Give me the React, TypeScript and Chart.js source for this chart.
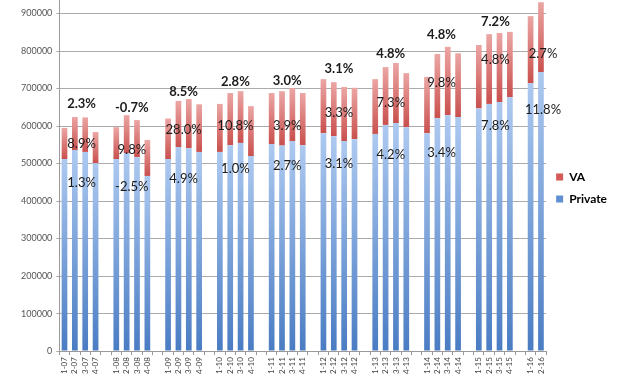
import React, { useEffect, useRef } from 'react';
import { Chart, registerables } from 'chart.js';

Chart.register(...registerables);

// Quarter tick labels ('' = spacer column between years)
const tickLabels: string[] = [
  '1-07', '2-07', '3-07', '4-07', '',
  '1-08', '2-08', '3-08', '4-08', '',
  '1-09', '2-09', '3-09', '4-09', '',
  '1-10', '2-10', '3-10', '4-10', '',
  '1-11', '2-11', '3-11', '4-11', '',
  '1-12', '2-12', '3-12', '4-12', '',
  '1-13', '2-13', '3-13', '4-13', '',
  '1-14', '2-14', '3-14', '4-14', '',
  '1-15', '2-15', '3-15', '4-15', '',
  '1-16', '2-16',
];

const privateValues: (number | null)[] = [
  512000, 536000, 531000, 501000, null,
  512000, 528000, 517000, 467000, null,
  512000, 544000, 541000, 531000, null,
  531000, 549000, 555000, 520000, null,
  552000, 548000, 560000, 549000, null,
  581000, 573000, 560000, 565000, null,
  579000, 603000, 608000, 597000, null,
  581000, 621000, 629000, 624000, null,
  647000, 659000, 664000, 677000, null,
  714000, 744000,
];

const vaValues: (number | null)[] = [
  83000, 88000, 92000, 83000, null,
  85000, 101000, 99000, 96000, null,
  108000, 123000, 131000, 127000, null,
  128000, 139000, 138000, 133000, null,
  136000, 145000, 141000, 139000, null,
  144000, 144000, 144000, 137000, null,
  146000, 154000, 160000, 144000, null,
  150000, 171000, 182000, 170000, null,
  169000, 186000, 184000, 174000, null,
  179000, 186000,
];

const yTickValues = [0, 100000, 200000, 300000, 400000, 500000, 600000, 700000, 800000, 900000];

const yearSuffixes = ['07', '08', '09', '10', '11', '12', '13', '14', '15', '16'];
const totalGrowth: (string | null)[] = ['2.3%', '-0.7%', '8.5%', '2.8%', '3.0%', '3.1%', '4.8%', '4.8%', '7.2%', null];
const vaGrowth = ['8.9%', '9.8%', '28.0%', '10.8%', '3.9%', '3.3%', '7.3%', '9.8%', '4.8%', '2.7%'];
const privateGrowth = ['1.3%', '-2.5%', '4.9%', '1.0%', '2.7%', '3.1%', '4.2%', '3.4%', '7.8%', '11.8%'];

// Annotation anchors (value-axis units) and horizontal nudges (category units)
const totalGrowthAt = [659000, 648000, 691000, 717000, 720000, 752000, 792000, 843000, 877000, 0];
const vaGrowthAt = [552000, 536000, 589000, 600000, 600000, 635000, 661000, 715000, 776000, 792000];
const privateGrowthAt = [448000, 437000, 459000, 485000, 493000, 499000, 523000, 528000, 600000, 643000];
const labelNudge = [0.15, 0, 0, 0, 0, 0, 0, -0.1, 0.1, 0.7];

const Y_MAX = 936000;

const COLORS = {
  vaLight: '#eba6a4',
  vaDark: '#c9504e',
  prLight: '#adc9f0',
  prDark: '#4a7cc3',
};

function segmentGradient(ctx: any, isTop: boolean, light: string, dark: string) {
  const chart = ctx.chart;
  const y = chart.scales && chart.scales.y;
  if (ctx.type !== 'data' || !y) return dark;
  const i = ctx.dataIndex;
  const p = privateValues[i];
  const v = vaValues[i];
  if (p == null || v == null) return dark;
  const base = isTop ? p : 0;
  const top = isTop ? p + v : p;
  const y0 = y.getPixelForValue(top);
  const y1 = y.getPixelForValue(base);
  if (!isFinite(y0) || !isFinite(y1) || y0 === y1) return dark;
  const g = chart.ctx.createLinearGradient(0, y0, 0, y1);
  g.addColorStop(0, light);
  g.addColorStop(1, dark);
  return g;
}

const growthLabels = {
  id: 'growthLabels',
  afterDatasetsDraw(chart: any) {
    const { ctx, scales } = chart;
    const x = scales.x;
    const y = scales.y;
    ctx.save();
    ctx.textAlign = 'center';
    ctx.textBaseline = 'middle';
    ctx.fillStyle = '#1c1c1c';
    yearSuffixes.forEach((yr, k) => {
      const idx: number[] = [];
      tickLabels.forEach((l, i) => {
        if (l.endsWith('-' + yr)) idx.push(i);
      });
      const c = idx.reduce((a, b) => a + b, 0) / idx.length + labelNudge[k];
      const px = x.getPixelForValue(c);
      const t = totalGrowth[k];
      if (t) {
        ctx.font = 'bold 13px Lato';
        ctx.fillText(t, px, y.getPixelForValue(totalGrowthAt[k]));
      }
      ctx.font = '13px Lato';
      ctx.fillText(vaGrowth[k], px, y.getPixelForValue(vaGrowthAt[k]));
      ctx.fillText(privateGrowth[k], px, y.getPixelForValue(privateGrowthAt[k]));
    });
    ctx.restore();
  },
};

export default function App() {
  const ref = useRef<HTMLCanvasElement | null>(null);

  useEffect(() => {
    if (!ref.current) return;
    Chart.defaults.font.family = 'Lato';
    const chart = new Chart(ref.current, {
      type: 'bar',
      data: {
        labels: tickLabels,
        datasets: [
          {
            label: 'Private',
            data: privateValues,
            backgroundColor: (c: any) => segmentGradient(c, false, COLORS.prLight, COLORS.prDark),
            borderWidth: 0,
            barPercentage: 0.55,
            categoryPercentage: 1,
          },
          {
            label: 'VA',
            data: vaValues,
            backgroundColor: (c: any) => segmentGradient(c, true, COLORS.vaLight, COLORS.vaDark),
            borderWidth: 0,
            barPercentage: 0.55,
            categoryPercentage: 1,
            clip: false as any,
          },
        ],
      },
      options: {
        responsive: false,
        animation: false,
        layout: { padding: { left: 17, right: 10, top: 0, bottom: 0 } },
        plugins: {
          legend: {
            position: 'right',
            reverse: true,
            labels: {
              boxWidth: 7,
              boxHeight: 7,
              padding: 10,
              color: '#333',
              font: { size: 12, weight: 'bold', family: 'Lato' },
              generateLabels: (ch: any) =>
                ch.data.datasets.map((ds: any, i: number) => ({
                  text: ds.label,
                  fillStyle: i === 0 ? '#5f8fd2' : '#d45a58',
                  strokeStyle: 'transparent',
                  lineWidth: 0,
                  hidden: false,
                  datasetIndex: i,
                })),
            },
          },
          tooltip: { enabled: false },
        },
        scales: {
          x: {
            stacked: true,
            offset: true,
            grid: {
              display: true,
              drawOnChartArea: false,
              drawTicks: true,
              tickLength: 4,
              color: '#9a9a9a',
              offset: true,
            },
            border: { display: true, color: '#9a9a9a' },
            ticks: {
              autoSkip: false,
              minRotation: 90,
              maxRotation: 90,
              padding: 2,
              color: '#444',
              font: { size: 8, family: 'Lato' },
            },
            afterFit: (s: any) => {
              s.paddingLeft = 0;
              s.paddingRight = 0;
            },
          },
          y: {
            stacked: true,
            min: 0,
            max: Y_MAX,
            grid: {
              color: '#ababab',
              lineWidth: 1,
              drawTicks: true,
              tickLength: 3,
            },
            border: { display: true, color: '#9a9a9a' },
            ticks: {
              padding: 4,
              color: '#555',
              font: { size: 9, family: 'Lato' },
              callback: (v: any) => String(v),
            },
            afterBuildTicks: (s: any) => {
              s.ticks = yTickValues.map((value) => ({ value }));
            },
            afterFit: (s: any) => {
              s.paddingTop = 0;
              s.paddingBottom = 0;
            },
          },
        },
      },
      plugins: [growthLabels],
    } as any);
    return () => chart.destroy();
  }, []);

  return (
    <div style={{ position: 'fixed', left: 0, top: 0, width: 627, height: 376, background: '#fff' }}>
      <canvas ref={ref} width={627} height={376} />
    </div>
  );
}
